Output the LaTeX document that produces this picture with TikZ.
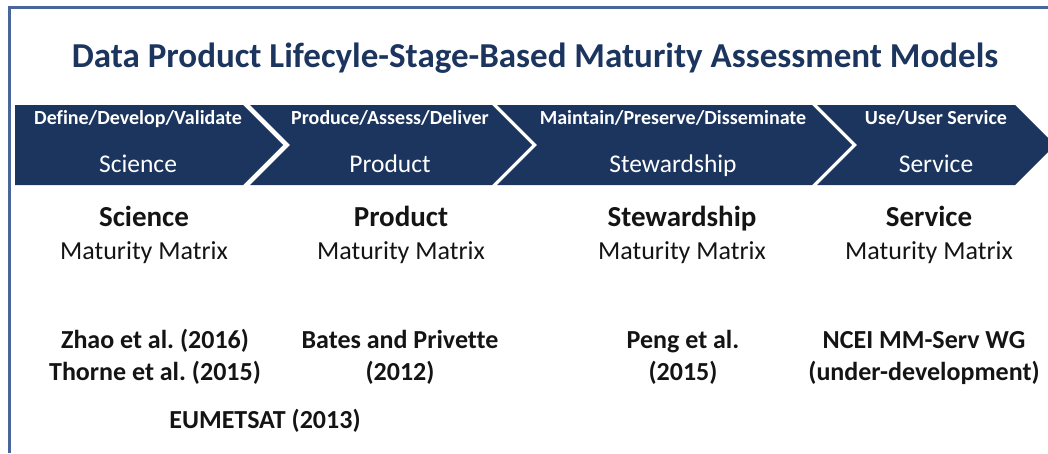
\documentclass[tikz,border=0pt]{standalone}
\usepackage{fontspec}
\setmainfont{Carlito}[Ligatures=CommonOff]
\usetikzlibrary{positioning}
\frenchspacing

\definecolor{navy}{HTML}{1C355E}
\definecolor{framecol}{HTML}{48669A}
\definecolor{inkcol}{HTML}{141414}

\tikzset{
  frame/.style={draw=framecol, line width=3pt},
  band/.style={fill=navy},
  titletext/.style={text=navy, inner sep=0pt, font=\bfseries\fontsize{35}{40}\selectfont},
  stagetop/.style={text=white, inner sep=0pt, anchor=base, font=\bfseries\fontsize{20}{24}\selectfont},
  stagename/.style={text=white, inner sep=0pt, font=\fontsize{25.5}{30}\selectfont},
  modelhead/.style={text=inkcol, inner sep=0pt, anchor=base, font=\bfseries\fontsize{29}{34}\selectfont},
  modelsub/.style={text=inkcol, inner sep=0pt, font=\fontsize{26}{30}\selectfont},
  cite/.style={text=inkcol, inner sep=0pt, anchor=base, font=\bfseries\fontsize{26}{30}\selectfont},
}

\begin{document}
\begin{tikzpicture}[x=1pt, y=-1pt]
  \useasboundingbox (0,0) rectangle (1048,453);

  % Frame and title
  \draw[frame] (9,453) -- (9,7) -- (1048,7);
  \node[titletext, anchor=base] (title) at (535,67) {Data Product Lifecyle-Stage-Based Maturity Assessment Models};

  % Chevrons
  \fill[band] (15,105) -- (243,105) -- (283,145) -- (243,185) -- (15,185) -- cycle;
  \fill[band] (250,105) -- (492,105) -- (532,145) -- (492,185) -- (250,185) -- (290,145) -- cycle;
  \fill[band] (497,105) -- (812,105) -- (852,145) -- (812,185) -- (497,185) -- (537,145) -- cycle;
  \fill[band] (817,105) -- (1015,105) -- (1055,145) -- (1015,185) -- (817,185) -- (857,145) -- cycle;

  % Stage labels
  \node[stagetop] (sci-top) at (138,124) {Define/Develop/Validate};
  \node[stagename, below=48pt of sci-top.base, anchor=base] (sci-name) {Science};
  \node[stagetop] (prod-top) at (390,124) {Produce/Assess/Deliver};
  \node[stagename, below=48pt of prod-top.base, anchor=base] (prod-name) {Product};
  \node[stagetop] (stew-top) at (673,124) {Maintain/Preserve/Disseminate};
  \node[stagename, below=48pt of stew-top.base, anchor=base] (stew-name) {Stewardship};
  \node[stagetop] (serv-top) at (936,124) {Use/User Service};
  \node[stagename, below=48pt of serv-top.base, anchor=base] (serv-name) {Service};

  % Maturity matrices
  \node[modelhead] (sci-head) at (144,226) {Science};
  \node[modelsub, below=33pt of sci-head.base, anchor=base] (sci-mm) {Maturity Matrix};
  \node[modelhead] (prod-head) at (401,226) {Product};
  \node[modelsub, below=33pt of prod-head.base, anchor=base] (prod-mm) {Maturity Matrix};
  \node[modelhead] (stew-head) at (682,226) {Stewardship};
  \node[modelsub, below=33pt of stew-head.base, anchor=base] (stew-mm) {Maturity Matrix};
  \node[modelhead] (serv-head) at (929,226) {Service};
  \node[modelsub, below=33pt of serv-head.base, anchor=base] (serv-mm) {Maturity Matrix};

  % References
  \node[cite] (zhao) at (155,348) {Zhao et al. (2016)};
  \node[cite, below=32pt of zhao.base, anchor=base] (thorne) {Thorne et al. (2015)};
  \node[cite] (eumetsat) at (265,428) {EUMETSAT (2013)};
  \node[cite] (bates) at (400,348) {Bates and Privette};
  \node[cite, below=32pt of bates.base, anchor=base] (bates-yr) {(2012)};
  \node[cite] (peng) at (683,348) {Peng et al.};
  \node[cite, below=32pt of peng.base, anchor=base] (peng-yr) {(2015)};
  \node[cite] (ncei) at (924,348) {NCEI MM-Serv WG};
  \node[cite, below=32pt of ncei.base, anchor=base] (ncei-note) {(under-development)};
\end{tikzpicture}
\end{document}
